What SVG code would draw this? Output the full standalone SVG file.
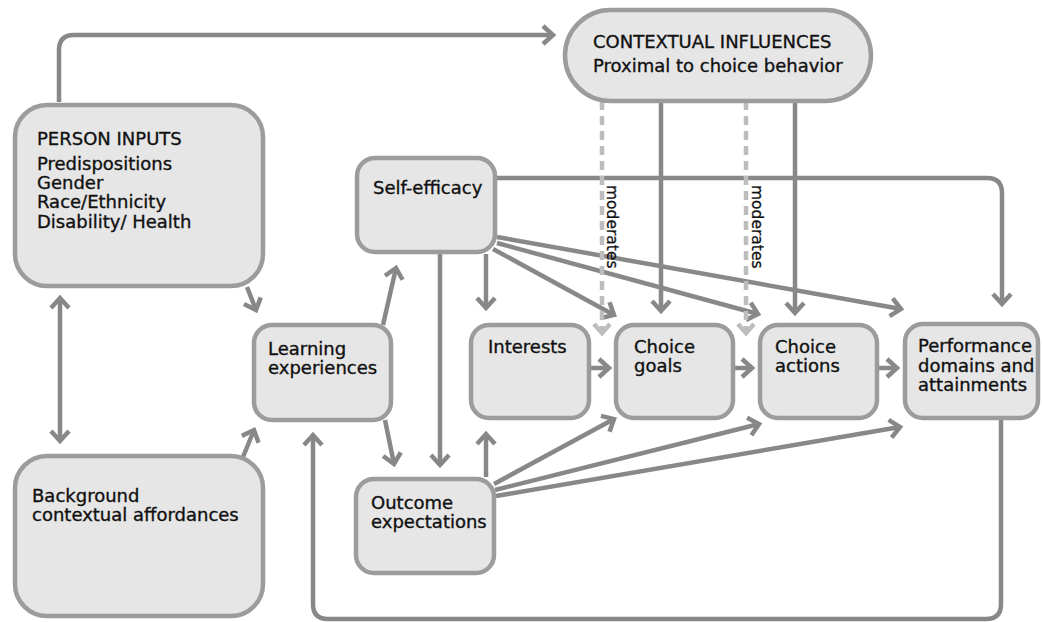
<svg xmlns="http://www.w3.org/2000/svg" width="1042" height="622" viewBox="0 0 1042 622">
  <style>
    .box { fill: #e6e6e6; stroke: #9c9c9c; stroke-width: 4.5; }
    .lbl { font-family: "DejaVu Sans", "Liberation Sans", sans-serif; font-size: 18px; fill: #111; stroke: #111; stroke-width: 0.35; }
    .mod { font-family: "DejaVu Sans", "Liberation Sans", sans-serif; font-size: 15.5px; fill: #111; stroke: #111; stroke-width: 0.3; }
    .link { fill: none; stroke: #888; stroke-width: 4.5; marker-end: url(#arrow); }
    .dash { fill: none; stroke: #bdbdbd; stroke-width: 4.5; stroke-dasharray: 9 6; marker-end: url(#arrowLight); }
  </style>
  <defs>
    <marker id="arrow" markerUnits="userSpaceOnUse" orient="auto-start-reverse" overflow="visible" markerWidth="1" markerHeight="1" refX="0" refY="0">
      <path d="M-10,-9 L0,0 L-10,9" fill="none" stroke="#888" stroke-width="4.5"/>
    </marker>
    <marker id="arrowLight" markerUnits="userSpaceOnUse" orient="auto" overflow="visible" markerWidth="1" markerHeight="1" refX="0" refY="0">
      <path d="M-9,-8 L0,0 L-9,8" fill="none" stroke="#bdbdbd" stroke-width="4.5"/>
    </marker>
  </defs>

  <rect width="1042" height="622" fill="#fff"/>

  <!-- connectors -->
  <g id="connectors">
    <path class="link" d="M59,102 V50 Q59,35 74,35 H553"/>
    <path class="link" d="M60,298 V441" style="marker-start:url(#arrow)"/>
    <path class="link" d="M247,287 L256,310"/>
    <path class="link" d="M243,457 L254,430"/>
    <path class="link" d="M383,325 L396,268"/>
    <path class="link" d="M385,420 L394,464"/>
    <path class="link" d="M440,254 V465"/>
    <path class="link" d="M486,254 V308"/>
    <path class="link" d="M493,249 L614,315"/>
    <path class="link" d="M497,243 L758,314"/>
    <path class="link" d="M497,237 L901,309"/>
    <path class="link" d="M497,178 H987 Q1002,178 1002,193 V304"/>
    <path class="link" d="M661,101 V311"/>
    <path class="link" d="M795,101 V313"/>
    <path class="dash" d="M602,101 V333"/>
    <path class="dash" d="M746,101 V333"/>
    <path class="link" d="M591,368 H609"/>
    <path class="link" d="M735,368 H752"/>
    <path class="link" d="M879,368 H897"/>
    <path class="link" d="M486,477 V434"/>
    <path class="link" d="M494,484 L614,419"/>
    <path class="link" d="M495,490 L759,424"/>
    <path class="link" d="M496,496 L900,427"/>
    <path class="link" d="M1001,420 V604 Q1001,619 986,619 H328 Q313,619 313,604 V435"/>
    <text class="mod" transform="translate(607,185) rotate(90)">moderates</text>
    <text class="mod" transform="translate(752,185) rotate(90)">moderates</text>
  </g>

  <!-- nodes -->
  <g id="person-inputs">
    <rect class="box" x="15" y="105" width="248" height="181" rx="32"/>
    <text class="lbl" x="37" y="145">PERSON INPUTS</text>
    <text class="lbl" x="37" y="170">Predispositions</text>
    <text class="lbl" x="37" y="189">Gender</text>
    <text class="lbl" x="37" y="208">Race/Ethnicity</text>
    <text class="lbl" x="37" y="228">Disability/ Health</text>
  </g>
  <g id="background">
    <rect class="box" x="15" y="456" width="248" height="160" rx="32"/>
    <text class="lbl" x="32" y="502">Background</text>
    <text class="lbl" x="32" y="521">contextual affordances</text>
  </g>
  <g id="contextual-influences">
    <rect class="box" x="565" y="10" width="306" height="91" rx="45.5"/>
    <text class="lbl" x="593" y="48">CONTEXTUAL INFLUENCES</text>
    <text class="lbl" x="593" y="72">Proximal to choice behavior</text>
  </g>
  <g id="self-efficacy">
    <rect class="box" x="357" y="158" width="138" height="94" rx="18"/>
    <text class="lbl" x="373" y="194">Self-efficacy</text>
  </g>
  <g id="learning-experiences">
    <rect class="box" x="254" y="325" width="137" height="95" rx="18"/>
    <text class="lbl" x="268" y="355">Learning</text>
    <text class="lbl" x="268" y="374">experiences</text>
  </g>
  <g id="outcome-expectations">
    <rect class="box" x="356" y="479" width="138" height="94" rx="18"/>
    <text class="lbl" x="371" y="509">Outcome</text>
    <text class="lbl" x="371" y="528">expectations</text>
  </g>
  <g id="interests">
    <rect class="box" x="471" y="325" width="118" height="93" rx="18"/>
    <text class="lbl" x="488" y="353">Interests</text>
  </g>
  <g id="choice-goals">
    <rect class="box" x="616" y="325" width="117" height="93" rx="18"/>
    <text class="lbl" x="634" y="353">Choice</text>
    <text class="lbl" x="634" y="372">goals</text>
  </g>
  <g id="choice-actions">
    <rect class="box" x="760" y="325" width="117" height="93" rx="18"/>
    <text class="lbl" x="775" y="353">Choice</text>
    <text class="lbl" x="775" y="372">actions</text>
  </g>
  <g id="performance">
    <rect class="box" x="905" y="324" width="133" height="94" rx="18"/>
    <text class="lbl" x="918" y="352">Performance</text>
    <text class="lbl" x="918" y="372">domains and</text>
    <text class="lbl" x="918" y="391">attainments</text>
  </g>
</svg>
